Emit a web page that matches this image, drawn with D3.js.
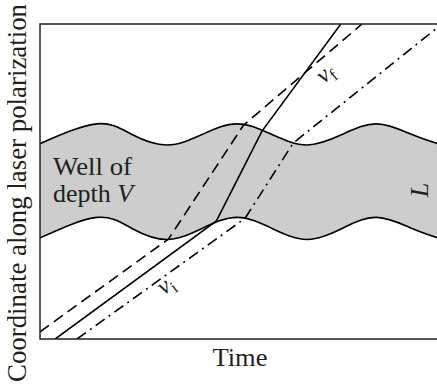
<!DOCTYPE html>
<html>
<head>
<meta charset="utf-8">
<script src="https://cdn.jsdelivr.net/npm/d3@7"></script>
</head>
<body style="margin:0">
<script>
// well boundaries (time, lower edge, upper edge)
const wellTime = [0, 14.25, 23, 31.75, 40.5, 49.25, 58, 66.75, 75.5, 84.25, 93, 100];
const wellTop = [62, 68.3, 64.9, 61.6, 64.9, 68.3, 64.9, 61.6, 64.9, 68.3, 64.9, 61.8];
const wellBottom = [32.1, 38.6, 35.1, 31.6, 35.1, 38.6, 35.1, 31.6, 35.1, 38.6, 35.1, 31.9];

// three trajectories: straight pieces, bent where they cross the well edges
const solidTime = [3.8, 44.1, 55.5, 75.2];
const solidCoord = [0, 37.5, 66.0, 100];
const dashedTime = [0, 32.1, 50.9, 80.5];
const dashedCoord = [2.3, 31.7, 67.9, 100];
const dashDotTime = [9.25, 51.25, 63.3, 100];
const dashDotCoord = [0, 38.3, 62.2, 99.5];

const svg = d3.select('body')
  .append('svg')
  .attr('width', 437)
  .attr('height', 386)
  .attr('font-family', 'Liberation Serif');

const xScale = d3.scaleLinear()
  .domain([0, 100])
  .range([40, 440]);
const yScale = d3.scaleLinear()
  .domain([0, 100])
  .range([339, 24]);

const layerMarks = svg.append('g');
const layerText = svg.append('g');

// textLength keeps each label at the width measured on the figure
function addText(size, width) {
  let t = layerText.append('text')
    .style('font-family', '"Liberation Serif"')
    .style('font-size', size + 'px')
    .attr('fill', '#231f20');
  if (width) {
    t.attr('textLength', width).attr('lengthAdjust', 'spacingAndGlyphs');
  }
  return t;
}

addText(26, 55)
  .attr('x', 240)
  .attr('y', 366)
  .attr('text-anchor', 'middle')
  .text('Time');

addText(27, 378)
  .attr('transform', 'translate(26, 193)rotate(-90)')
  .attr('text-anchor', 'middle')
  .text('Coordinate along laser polarization');

addText(26, 79)
  .attr('x', 53)
  .attr('y', 175)
  .text('Well of');

const depth = addText(26)
  .attr('x', 53)
  .attr('y', 202);
depth.append('tspan').text('depth ');
depth.append('tspan').style('font-style', 'italic').text('V');

addText(26)
  .attr('transform', 'translate(428, 190)rotate(-90)')
  .attr('text-anchor', 'middle')
  .style('font-style', 'italic')
  .text('L');

// velocity labels follow the slope of the nearby lines
function velocityLabel(x, y, angle, sub) {
  const label = addText(24)
    .attr('transform', 'translate(' + x + ',' + y + ')rotate(' + angle + ')')
    .attr('text-anchor', 'middle');
  label.append('tspan')
    .style('font-style', 'italic')
    .text('v');
  label.append('tspan')
    .attr('dy', 5)
    .style('font-size', '17px')
    .text(sub);
}
velocityLabel(330, 79, -40, 'f');
velocityLabel(170, 291, -36, 'i');

svg.append('clipPath')
  .attr('id', 'plotClip')
  .append('rect')
  .attr('x', xScale(0))
  .attr('y', yScale(100))
  .attr('width', xScale(100) - xScale(0))
  .attr('height', yScale(0) - yScale(100));

// grey band between the two wavy edges
const rows = wellTime.map((t, i) => ({ t: t, lo: wellBottom[i], hi: wellTop[i] }));
const plot = layerMarks.append('g').attr('clip-path', 'url(#plotClip)');

plot.append('path')
  .datum(rows)
  .attr('d', d3.area()
    .x(d => xScale(d.t))
    .y0(d => yScale(d.lo))
    .y1(d => yScale(d.hi))
    .curve(d3.curveNatural))
  .attr('fill', '#cdcdcd');

['lo', 'hi'].forEach(key => {
  plot.append('path')
    .datum(rows)
    .attr('d', d3.line().x(d => xScale(d.t)).y(d => yScale(d[key])).curve(d3.curveNatural))
    .attr('fill', 'none')
    .attr('stroke', '#000')
    .attr('stroke-width', 1.6);
});

// trajectories
const line = d3.line()
  .x(d => xScale(d[0]))
  .y(d => yScale(d[1]));

[
  { t: solidTime, c: solidCoord, dash: null },
  { t: dashedTime, c: dashedCoord, dash: '11,6' },
  { t: dashDotTime, c: dashDotCoord, dash: '11,5,2,5' }
].forEach(p => {
  plot.append('path')
    .datum(p.t.map((t, i) => [t, p.c[i]]))
    .attr('d', line)
    .attr('fill', 'none')
    .attr('stroke', '#000')
    .attr('stroke-width', 1.6)
    .attr('stroke-dasharray', p.dash);
});

// left, top and bottom edges; the right edge sits just off the page
layerMarks.append('path')
  .attr('d', 'M' + xScale(100) + ',' + yScale(100) +
    'H' + xScale(0) + 'V' + yScale(0) + 'H' + xScale(100))
  .attr('fill', 'none')
  .attr('stroke', '#231f20')
  .attr('stroke-width', 1.5);
</script>
</body>
</html>
